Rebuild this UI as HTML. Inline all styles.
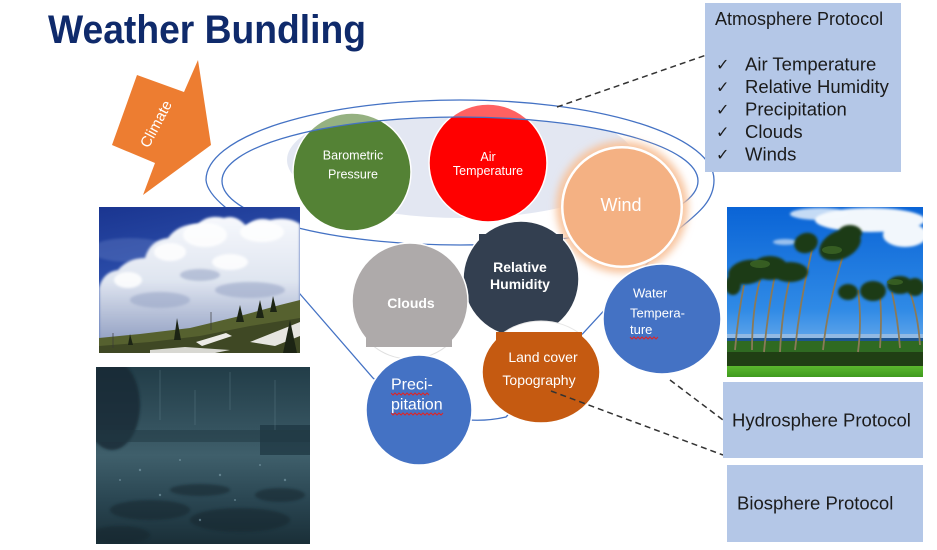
<!DOCTYPE html>
<html><head><meta charset="utf-8"><style>
html,body{margin:0;padding:0;background:#fff;}
svg{display:block;}
text{font-family:"Liberation Sans",Arial,sans-serif;}
</style></head><body>
<svg width="937" height="550" viewBox="0 0 937 550" xmlns="http://www.w3.org/2000/svg">
<defs>
  <clipPath id="innerClip"><ellipse cx="460" cy="181" rx="238" ry="64"/></clipPath>
  <clipPath id="topCircles"><circle cx="352" cy="172" r="59"/><circle cx="488" cy="163" r="59"/></clipPath>
  <clipPath id="cph1"><rect x="99" y="207" width="201" height="146"/></clipPath>
  <clipPath id="cph2"><rect x="96" y="367" width="214" height="177"/></clipPath>
  <clipPath id="cph3"><rect x="727" y="207" width="196" height="170"/></clipPath>
  <clipPath id="cloudsClip"><rect x="340" y="230" width="140" height="117"/></clipPath>
  <clipPath id="landClip"><rect x="470" y="332" width="140" height="100"/></clipPath>
  <linearGradient id="sky1" x1="0" y1="0" x2="0.3" y2="1"><stop offset="0" stop-color="#1a3590"/><stop offset="0.6" stop-color="#2f53b0"/><stop offset="1" stop-color="#5a78c0"/></linearGradient>
  <linearGradient id="cloudG" x1="0" y1="0" x2="0" y2="1"><stop offset="0" stop-color="#f6f8fc"/><stop offset="0.5" stop-color="#dfe5f0"/><stop offset="1" stop-color="#8e9cc0"/></linearGradient>
  <linearGradient id="rain" x1="0" y1="0" x2="0" y2="1"><stop offset="0" stop-color="#223d48"/><stop offset="0.35" stop-color="#35535f"/><stop offset="0.5" stop-color="#3f5f6b"/><stop offset="0.75" stop-color="#2a4652"/><stop offset="1" stop-color="#1a2f38"/></linearGradient>
  <linearGradient id="sky3" x1="0" y1="0" x2="0" y2="1"><stop offset="0" stop-color="#0a64d6"/><stop offset="0.6" stop-color="#2f8ae6"/><stop offset="1" stop-color="#9cc6ee"/></linearGradient>
  <linearGradient id="grass" x1="0" y1="0" x2="0" y2="1"><stop offset="0" stop-color="#5bb82e"/><stop offset="1" stop-color="#3f9a1e"/></linearGradient>
  <filter id="blur" x="-30%" y="-30%" width="160%" height="160%"><feGaussianBlur stdDeviation="4"/></filter>
  <filter id="soft" x="-10%" y="-10%" width="120%" height="120%"><feGaussianBlur stdDeviation="1.2"/></filter>
</defs>

<rect width="937" height="550" fill="#fff"/>

<!-- Title -->
<text x="48" y="43" font-size="40" font-weight="bold" fill="#0f2a6b" textLength="318" lengthAdjust="spacingAndGlyphs">Weather Bundling</text>

<!-- Climate arrow -->
<polygon points="137,75 184,92 198,60 211,145 143,195 155,163 112,145" fill="#ED7D31"/>
<text x="0" y="0" font-size="15" fill="#fff" text-anchor="middle" transform="translate(156,124) rotate(-62) translate(0,5)">Climate</text>

<!-- light fill inside inner ring -->
<g clip-path="url(#innerClip)">
  <ellipse cx="461" cy="160" rx="174" ry="58" fill="#E3E7F2"/>
</g>

<!-- Top circles -->
<circle cx="352" cy="172" r="59" fill="#548235" stroke="#fff" stroke-width="1.5"/>
<circle cx="488" cy="163" r="59" fill="#FF0000" stroke="#fff" stroke-width="1.5"/>
<g clip-path="url(#topCircles)">
  <path d="M0,0 H937 V550 H0 Z M222,181 A238,64 0 1 0 698,181 A238,64 0 1 0 222,181 Z" fill="#fff" fill-opacity="0.38" fill-rule="evenodd"/>
</g>
<text x="353" y="159.5" font-size="12.5" fill="#fff" text-anchor="middle">Barometric</text>
<text x="353" y="178.5" font-size="12.5" fill="#fff" text-anchor="middle">Pressure</text>
<text x="488" y="161" font-size="12.5" fill="#fff" text-anchor="middle">Air</text>
<text x="488" y="175" font-size="12.5" fill="#fff" text-anchor="middle">Temperature</text>

<!-- Rings -->
<ellipse cx="460" cy="181" rx="238" ry="64" fill="none" stroke="#4472C4" stroke-width="1.3"/>
<path d="M206,180 A254,80 0 0 1 714,180 C714,200 700,212 680,228 L506,417 Q440,432 373,378 L300,294 L225,207 Q207,192 206,180 Z" fill="none" stroke="#4472C4" stroke-width="1.3"/>

<!-- Photo: clouds -->
<g clip-path="url(#cph1)">
  <rect x="99" y="207" width="201" height="146" fill="url(#sky1)"/>
  <ellipse cx="130" cy="250" rx="40" ry="12" fill="#6d86c8" opacity="0.35" filter="url(#soft)"/>
  <path d="M99,288 Q103,272 118,270 Q128,258 145,258 Q150,240 168,238 Q178,224 198,224 Q208,214 224,218 Q236,214 246,226 Q256,216 270,220 Q288,216 300,224 L300,320 L99,345 Z" fill="url(#cloudG)" filter="url(#soft)"/>
  <g fill="#ffffff" opacity="0.85" filter="url(#soft)">
    <ellipse cx="205" cy="235" rx="22" ry="12"/>
    <ellipse cx="262" cy="232" rx="22" ry="10"/>
    <ellipse cx="170" cy="252" rx="16" ry="9"/>
    <ellipse cx="128" cy="280" rx="14" ry="8"/>
    <ellipse cx="230" cy="262" rx="18" ry="8"/>
  </g>
  <g fill="#9ba8c8" opacity="0.6" filter="url(#soft)">
    <ellipse cx="160" cy="300" rx="30" ry="8"/>
    <ellipse cx="250" cy="290" rx="35" ry="8"/>
    <ellipse cx="200" cy="275" rx="20" ry="6"/>
  </g>
  <polygon points="99,338 140,334 190,328 240,316 280,305 300,300 300,353 99,353" fill="#56612f"/>
  <polygon points="99,346 150,342 200,336 250,326 300,318 300,353 99,353" fill="#3f4824"/>
  <polygon points="196,342 226,333 232,336 202,346" fill="#ecebe6"/>
  <polygon points="250,342 285,328 300,322 300,336 275,346" fill="#e6e5e0"/>
  <polygon points="150,350 185,347 230,350 215,353 150,353" fill="#d8d8d2"/>
  <g fill="#1c2414">
    <polygon points="174,340 177,318 181,340"/>
    <polygon points="236,322 240,305 244,322"/>
    <polygon points="256,318 260,300 264,318"/>
    <polygon points="270,312 273,296 277,312"/>
    <polygon points="283,353 290,320 297,353"/>
    <polygon points="128,345 130,334 133,345"/>
  </g>
  <g stroke="#3a3a3a" stroke-width="0.7">
    <line x1="113" y1="348" x2="113" y2="333"/>
    <line x1="211" y1="330" x2="211" y2="312"/>
  </g>
</g>

<!-- Photo: rain -->
<g clip-path="url(#cph2)">
  <rect x="96" y="367" width="214" height="177" fill="url(#rain)"/>
  <ellipse cx="112" cy="405" rx="28" ry="45" fill="#132630" opacity="0.75" filter="url(#soft)"/>
  <rect x="260" y="425" width="50" height="30" fill="#1d3440" opacity="0.7"/>
  <rect x="96" y="430" width="214" height="12" fill="#1f3742" opacity="0.5"/>
  <g fill="#16282f" opacity="0.55" filter="url(#soft)">
    <ellipse cx="150" cy="510" rx="40" ry="10"/>
    <ellipse cx="240" cy="520" rx="50" ry="12"/>
    <ellipse cx="200" cy="490" rx="30" ry="6"/>
    <ellipse cx="120" cy="535" rx="30" ry="9"/>
    <ellipse cx="280" cy="495" rx="25" ry="7"/>
  </g>
  <g fill="#8fb0bd" opacity="0.5">
    <circle cx="140" cy="470" r="1.2"/><circle cx="180" cy="460" r="1"/><circle cx="220" cy="475" r="1.2"/>
    <circle cx="260" cy="465" r="1"/><circle cx="160" cy="495" r="1.2"/><circle cx="235" cy="500" r="1"/>
    <circle cx="285" cy="480" r="1.2"/><circle cx="120" cy="480" r="1"/><circle cx="200" cy="520" r="1.2"/>
  </g>
  <g stroke="#6f8f9a" stroke-width="0.8" opacity="0.4">
    <line x1="160" y1="370" x2="160" y2="420"/><line x1="230" y1="372" x2="230" y2="410"/>
    <line x1="275" y1="380" x2="275" y2="430"/><line x1="195" y1="390" x2="195" y2="425"/>
  </g>
</g>

<!-- Photo: palms -->
<g clip-path="url(#cph3)">
  <rect x="727" y="207" width="196" height="170" fill="url(#sky3)"/>
  <g fill="#f2f7fc" filter="url(#soft)">
    <ellipse cx="870" cy="220" rx="55" ry="12"/>
    <ellipse cx="905" cy="235" rx="22" ry="12"/>
    <ellipse cx="820" cy="214" rx="30" ry="6" opacity="0.8"/>
    <ellipse cx="785" cy="242" rx="12" ry="3" opacity="0.6"/>
  </g>
  <rect x="727" y="334" width="196" height="5" fill="#a9c3e0" opacity="0.7"/>
  <rect x="727" y="338" width="196" height="4" fill="#1d5590"/>
  <rect x="727" y="341" width="196" height="16" fill="#2f6a22"/>
  <rect x="727" y="352" width="196" height="15" fill="#203f14"/>
  <rect x="727" y="366" width="196" height="11" fill="url(#grass)"/>
  <g stroke="#8a7a58" stroke-width="1.8" fill="none">
    <path d="M735,350 Q738,315 744,285"/>
    <path d="M752,350 Q752,310 760,280"/>
    <path d="M764,352 Q768,310 775,275"/>
    <path d="M780,352 Q782,310 790,278"/>
    <path d="M795,350 Q800,300 812,250"/>
    <path d="M823,350 Q828,300 848,240"/>
    <path d="M858,352 Q862,320 858,290"/>
    <path d="M880,348 Q882,320 880,295"/>
    <path d="M900,348 Q898,320 892,292"/>
    <path d="M920,345 Q918,315 910,292"/>
  </g>
  <g fill="#1f3a14" filter="url(#soft)">
    <ellipse cx="748" cy="272" rx="20" ry="12" transform="rotate(-10 748 272)"/>
    <ellipse cx="770" cy="268" rx="18" ry="12"/>
    <ellipse cx="790" cy="272" rx="18" ry="10"/>
    <ellipse cx="733" cy="285" rx="8" ry="10"/>
    <ellipse cx="806" cy="243" rx="12" ry="10" transform="rotate(-20 806 243)"/>
    <ellipse cx="840" cy="245" rx="22" ry="14" transform="rotate(-25 840 245)"/>
    <ellipse cx="850" cy="233" rx="12" ry="8"/>
    <ellipse cx="848" cy="292" rx="10" ry="8"/>
    <ellipse cx="873" cy="291" rx="13" ry="10"/>
    <ellipse cx="900" cy="285" rx="13" ry="9"/>
    <ellipse cx="915" cy="287" rx="9" ry="9"/>
  </g>
  <g fill="#3d6626" opacity="0.8">
    <ellipse cx="760" cy="264" rx="10" ry="4"/>
    <ellipse cx="832" cy="250" rx="10" ry="4"/>
    <ellipse cx="895" cy="282" rx="8" ry="3"/>
  </g>
</g>

<!-- Wind -->
<circle cx="622" cy="207" r="66" fill="#F8C49E" filter="url(#blur)"/>
<circle cx="622" cy="207" r="61" fill="#fff"/>
<circle cx="622" cy="207" r="58.5" fill="#F4B183"/>
<text x="621" y="211" font-size="18" fill="#fff" text-anchor="middle">Wind</text>

<!-- Relative Humidity -->
<circle cx="521" cy="279" r="58" fill="#333F50" stroke="#fff" stroke-width="1.5"/>
<rect x="479" y="234" width="84" height="30" fill="#333F50"/>
<text x="520" y="272" font-size="14" font-weight="bold" fill="#fff" text-anchor="middle">Relative</text>
<text x="520" y="289" font-size="14" font-weight="bold" fill="#fff" text-anchor="middle">Humidity</text>

<!-- Clouds -->
<circle cx="410" cy="301" r="58" fill="#fff" stroke="#e0e0e0" stroke-width="1"/>
<g clip-path="url(#cloudsClip)">
  <circle cx="410" cy="301" r="58" fill="#AEAAAA" stroke="#fff" stroke-width="1.5"/>
</g>
<rect x="366" y="330" width="86" height="17" fill="#AEAAAA"/>
<text x="411" y="308" font-size="14" font-weight="bold" fill="#fff" text-anchor="middle">Clouds</text>

<!-- Water Temperature -->
<ellipse cx="662" cy="319" rx="59" ry="55" fill="#4472C4" stroke="#fff" stroke-width="1.5"/>
<text x="633" y="297.5" font-size="13" fill="#fff">Water</text>
<text x="630" y="317.5" font-size="13" fill="#fff">Tempera-</text>
<text x="630" y="334" font-size="13" fill="#fff">ture</text>

<!-- Land cover -->
<ellipse cx="541" cy="372" rx="59" ry="51" fill="#fff" stroke="#e6e6e6" stroke-width="1"/>
<g clip-path="url(#landClip)">
  <ellipse cx="541" cy="372" rx="59" ry="51" fill="#C55A11" stroke="#fff" stroke-width="1.5"/>
</g>
<rect x="496" y="332" width="86" height="14" fill="#C55A11"/>
<text x="543" y="362" font-size="14" fill="#fff" text-anchor="middle">Land cover</text>
<text x="539" y="385" font-size="14" fill="#fff" text-anchor="middle">Topography</text>

<!-- Precipitation -->
<ellipse cx="419" cy="410" rx="53" ry="55" fill="#4472C4" stroke="#fff" stroke-width="1.5"/>
<text x="391" y="389.5" font-size="16" fill="#fff">Preci-</text>
<text x="391" y="409.5" font-size="16" fill="#fff">pitation</text>

<!-- red wavy underlines -->
<g fill="none" stroke="#e02424" stroke-width="1">
  <path d="M391,393 l2,2 l2,-2 l2,2 l2,-2 l2,2 l2,-2 l2,2 l2,-2 l2,2 l2,-2 l2,2 l2,-2 l2,2 l2,-2 l2,2 l2,-2 l2,2 l2,-2 l2,2"/>
  <path d="M391,413 l2,2 l2,-2 l2,2 l2,-2 l2,2 l2,-2 l2,2 l2,-2 l2,2 l2,-2 l2,2 l2,-2 l2,2 l2,-2 l2,2 l2,-2 l2,2 l2,-2 l2,2 l2,-2 l2,2 l2,-2 l2,2 l2,-2 l2,2 l2,-2"/>
  <path d="M630,337 l2,2 l2,-2 l2,2 l2,-2 l2,2 l2,-2 l2,2 l2,-2 l2,2 l2,-2 l2,2 l2,-2 l2,2 l2,-2"/>
</g>

<!-- dashed connectors -->
<g stroke="#333" stroke-width="1.5" stroke-dasharray="6,4" fill="none">
  <line x1="557" y1="107" x2="715" y2="52"/>
  <line x1="670" y1="380" x2="723" y2="420"/>
  <line x1="551" y1="391" x2="723" y2="455"/>
</g>

<!-- Boxes -->
<rect x="705" y="3" width="196" height="169" fill="#B4C7E7"/>
<text x="715" y="25" font-size="18" fill="#1b1b1b">Atmosphere Protocol</text>
<g font-size="16" fill="#1b1b1b" style="font-family:'DejaVu Sans',sans-serif">
  <text x="716" y="70">✓</text>
  <text x="716" y="92.5">✓</text>
  <text x="716" y="115">✓</text>
  <text x="716" y="137.5">✓</text>
  <text x="716" y="160">✓</text>
</g>
<g font-size="18.5" fill="#1b1b1b">
  <text x="745" y="70.5">Air Temperature</text>
  <text x="745" y="93">Relative Humidity</text>
  <text x="745" y="115.5">Precipitation</text>
  <text x="745" y="138">Clouds</text>
  <text x="745" y="160.5">Winds</text>
</g>

<rect x="723" y="382" width="200" height="76" fill="#B4C7E7"/>
<text x="732" y="426.5" font-size="18.5" fill="#1b1b1b">Hydrosphere Protocol</text>

<rect x="727" y="465" width="196" height="77" fill="#B4C7E7"/>
<text x="737" y="509.5" font-size="18.5" fill="#1b1b1b">Biosphere Protocol</text>
</svg>
</body></html>
